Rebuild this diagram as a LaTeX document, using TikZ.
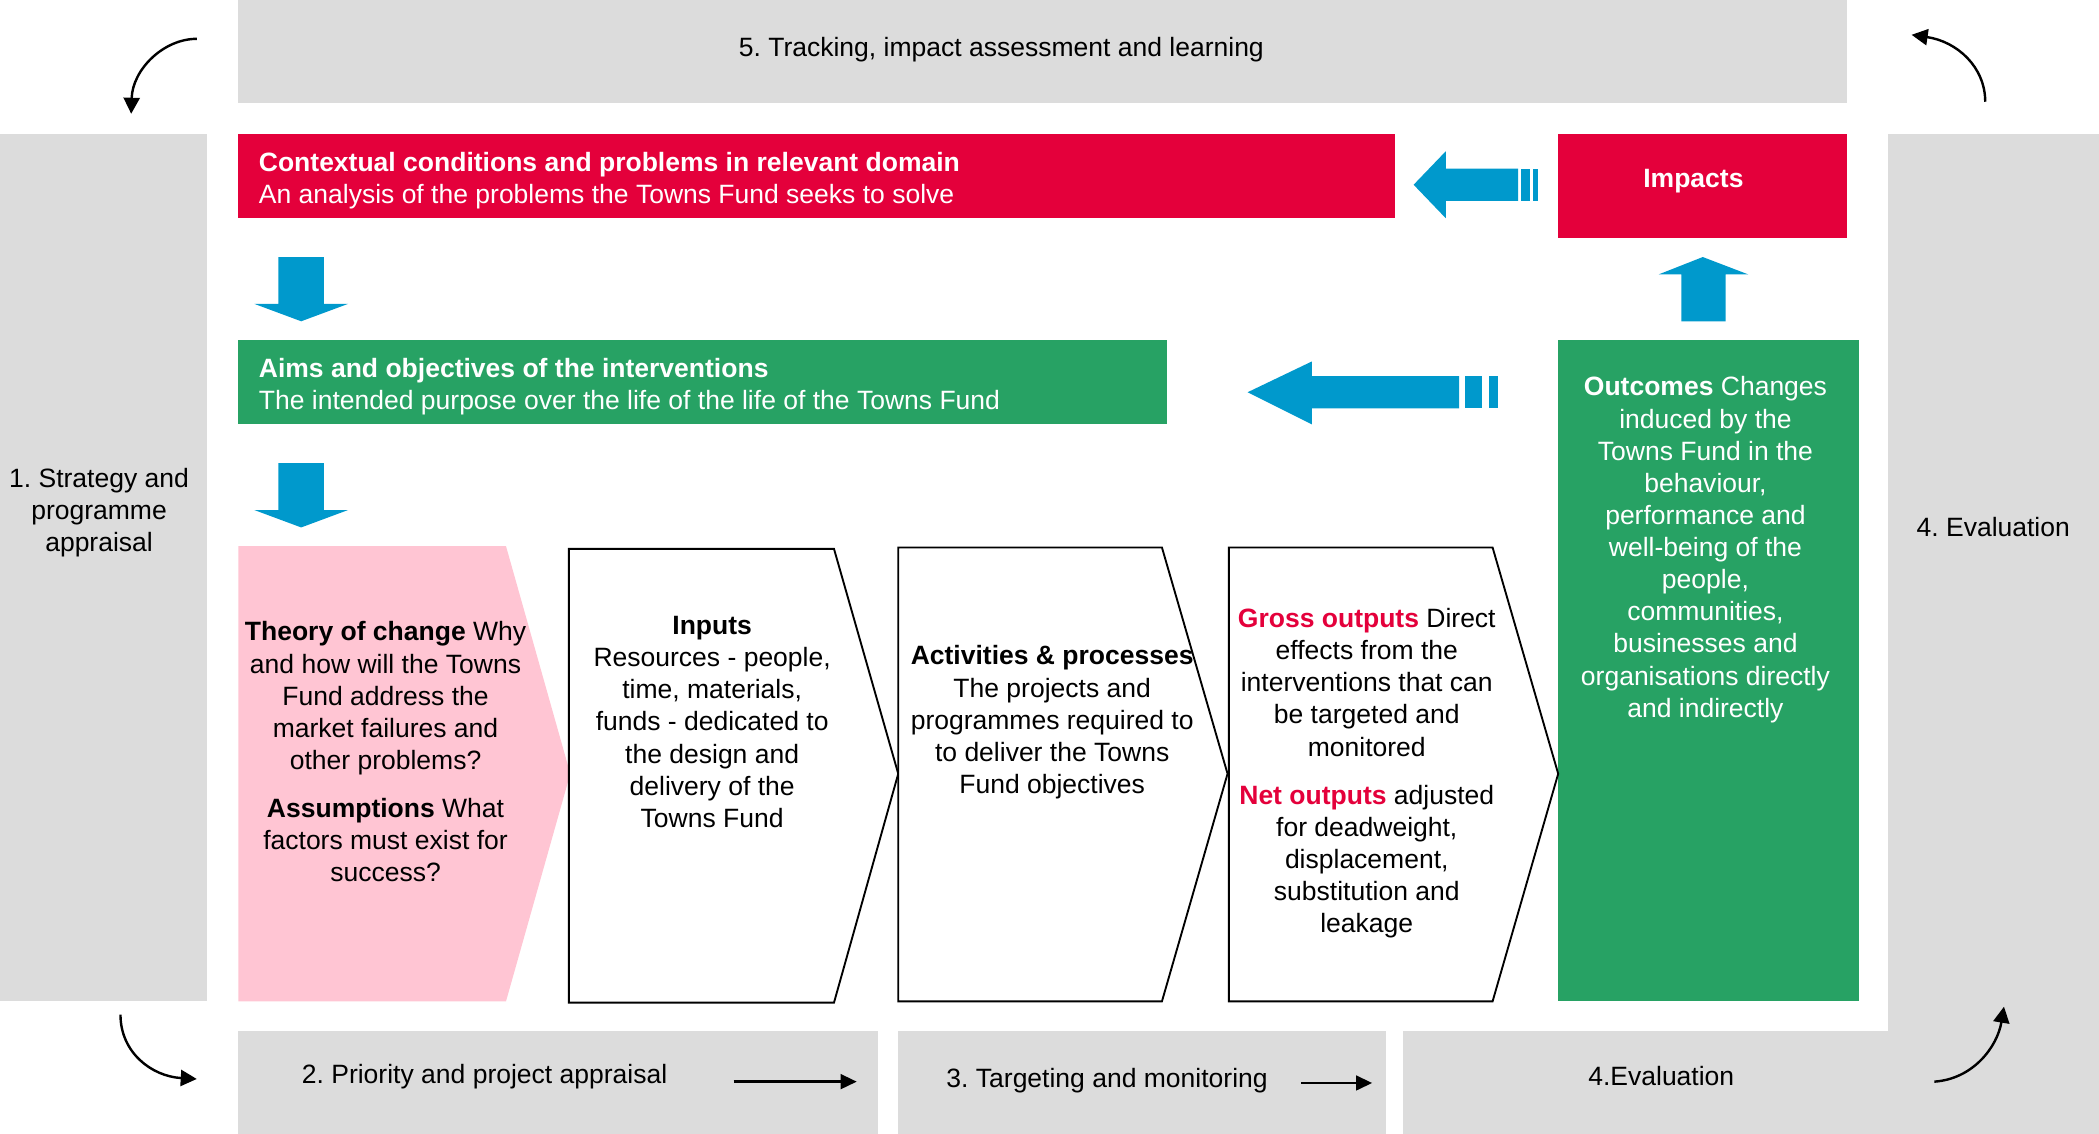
\documentclass[tikz,border=0pt]{standalone}
\usepackage{fontspec}
\setmainfont{Liberation Sans}
\usepackage{xcolor}
\usepackage{tikz}
\usetikzlibrary{positioning, arrows.meta}
\frenchspacing

\definecolor{tfred}{HTML}{E4003B}
\definecolor{tfgreen}{HTML}{27A264}
\definecolor{tfblue}{HTML}{0099CC}
\definecolor{tfgrey}{HTML}{DCDCDC}
\definecolor{tfpink}{HTML}{FFC5D3}

\begin{document}
\begin{tikzpicture}[
    % one unit = one pixel of the layout, y runs downwards
    x=0.5pt, y=-0.5pt,
    font=\fontsize{9.9}{12}\selectfont,
    stage/.style={fill=tfgrey},
    txt/.style={inner sep=0, align=center},
    bartxt/.style={inner sep=0, align=left, anchor=north west, text=white},
    blockarrow/.style={fill=tfblue},
    loop/.style={-{Triangle[length=6pt, width=6pt]}, line width=0.9pt},
    flow/.style={-{Triangle[length=6pt, width=5.5pt]}, line width=0.9pt},
    chevron/.style={draw=black, line width=0.7pt, fill=white}
    ]

    \useasboundingbox (0,0) rectangle (1568,847);

    % --- 1. Grey stage frame ---
    \fill[stage] (178,0) rectangle (1380,77);
    \fill[stage] (0,100) rectangle (155,748);
    \fill[stage] (1410,100) rectangle (1568,847);
    \fill[stage] (178,770) rectangle (656,847);
    \fill[stage] (671,770) rectangle (1035,847);
    \fill[stage] (1048,770) rectangle (1568,847);

    \node[txt] (tracking) at (748,37) {5. Tracking, impact assessment and learning};
    \node[txt] (strategy) at (74,383) {1. Strategy and\\programme\\appraisal};
    \node[txt] (evalright) at (1489,394) {4. Evaluation};
    \node[txt] (priority) at (362,804) {2. Priority and project appraisal};
    \node[txt] (targeting) at (827,807) {3. Targeting and monitoring};
    \node[txt] (evalbottom) at (1241,804) {4.Evaluation};

    % loop arrows in the corners
    \coordinate (tlstart) at (147,29);
    \coordinate (tlend) at (98,85);
    \draw[loop] (tlstart) .. controls (122,29) and (99,52) .. (tlend);

    \coordinate (trstart) at (1483,76);
    \coordinate (trend) at (1428,26);
    \draw[loop] (trstart) .. controls (1483,50) and (1462,31) .. (trend);

    \coordinate (blstart) at (90,758);
    \coordinate (blend) at (147,806);
    \draw[loop] (blstart) .. controls (90,786) and (113,804) .. (blend);

    \coordinate (brstart) at (1445,808);
    \coordinate (brend) at (1497,752);
    \draw[loop] (brstart) .. controls (1474,806) and (1492,782) .. (brend);

    \coordinate (prioa) at (548,808);
    \coordinate (priob) at (640,808);
    \draw[flow] (prioa) -- (priob);
    \coordinate (targa) at (972,809);
    \coordinate (targb) at (1025,809);
    \draw[flow] (targa) -- (targb);

    % --- 2. Context, aims, impacts and outcomes ---
    \fill[tfred] (178,100) rectangle (1042,163);
    \node[bartxt] (context) at (193,113)
        {\textbf{Contextual conditions and problems in relevant domain}\\An analysis of the problems the Towns Fund seeks to solve};

    \fill[tfgreen] (178,254) rectangle (872,317);
    \node[bartxt] (aims) at (193,267)
        {\textbf{Aims and objectives of the interventions}\\The intended purpose over the life of the life of the Towns Fund};

    \fill[tfred] (1164,100) rectangle (1380,178);
    \node[txt, text=white] (impacts) at (1265,135) {\textbf{Impacts}};

    \fill[tfgreen] (1164,254) rectangle (1389,748);
    \node[txt, text=white, anchor=north] (outcomes) at (1274,281)
        {\textbf{Outcomes} Changes\\induced by the\\Towns Fund in the\\behaviour,\\performance and\\well-being of the\\people,\\communities,\\businesses and\\organisations directly\\and indirectly};

    % block arrows
    \fill[blockarrow] (1056,138) -- (1080,113) -- (1080,126) -- (1134,126) -- (1134,150)
        -- (1080,150) -- (1080,163) -- cycle;
    \fill[blockarrow] (1136,126) rectangle (1143,150);
    \fill[blockarrow] (1145,126) rectangle (1149,150);

    \fill[blockarrow] (932,293) -- (980,270) -- (980,281) -- (1090,281) -- (1090,305)
        -- (980,305) -- (980,317) -- cycle;
    \fill[blockarrow] (1094,281) rectangle (1107,305);
    \fill[blockarrow] (1112,281) rectangle (1119,305);

    \fill[blockarrow] (208,192) -- (242,192) -- (242,227) -- (260,227) -- (225,240)
        -- (190,227) -- (208,227) -- cycle;
    \fill[blockarrow] (208,346) -- (242,346) -- (242,381) -- (260,381) -- (225,394)
        -- (190,381) -- (208,381) -- cycle;
    \fill[blockarrow] (1256,240) -- (1256,205) -- (1239,205) -- (1272,192) -- (1306,205)
        -- (1289,205) -- (1289,240) -- cycle;

    % --- 3. Chevron chain ---
    \fill[tfpink] (178,408) -- (378,408) -- (426,578) -- (378,748) -- (178,748) -- cycle;
    \draw[chevron] (425,410) -- (623,410) -- (671,578) -- (623,749) -- (425,749) -- cycle;
    \draw[chevron] (671,409) -- (868,409) -- (917,578) -- (868,748) -- (671,748) -- cycle;
    \draw[chevron] (918,409) -- (1115,409) -- (1164,578) -- (1115,748) -- (918,748) -- cycle;

    \node[txt, anchor=north] (theory) at (288,464)
        {\textbf{Theory of change} Why\\and how will the Towns\\Fund address the\\market failures and\\other problems?\\[6pt]
         \textbf{Assumptions} What\\factors must exist for\\success?};
    \node[txt, anchor=north] (inputs) at (532,460)
        {\textbf{Inputs}\\Resources - people,\\time, materials,\\funds - dedicated to\\the design and\\delivery of the\\Towns Fund};
    \node[txt, anchor=north] (activities) at (786,482)
        {\textbf{Activities \& processes}\\The projects and\\programmes required to\\to deliver the Towns\\Fund objectives};
    \node[txt, anchor=north] (outputs) at (1021,454)
        {\textcolor{tfred}{\textbf{Gross outputs}} Direct\\effects from the\\interventions that can\\be targeted and\\monitored\\[6pt]
         \textcolor{tfred}{\textbf{Net outputs}} adjusted\\for deadweight,\\displacement,\\substitution and\\leakage};

\end{tikzpicture}
\end{document}
